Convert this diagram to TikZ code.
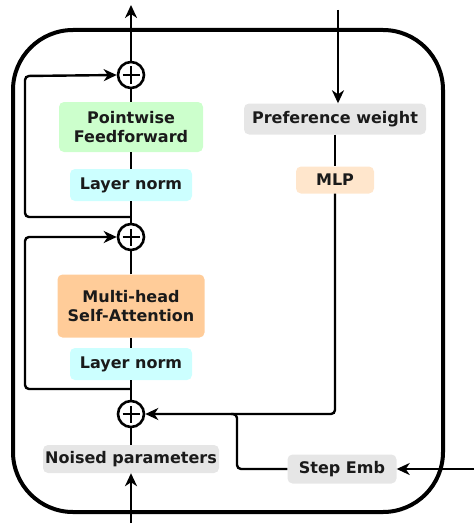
\documentclass[tikz,border=0pt]{standalone}
\usepackage{fontspec}
\setmainfont{DejaVu Sans}
\usetikzlibrary{arrows.meta}
\definecolor{ffgreen}{HTML}{CCFFCC}
\definecolor{normcyan}{HTML}{CCFFFF}
\definecolor{attnorange}{HTML}{FFCC99}
\definecolor{mlppeach}{HTML}{FFE6CC}
\definecolor{iogray}{HTML}{E6E6E6}
\definecolor{ink}{HTML}{1A1A1A}
\begin{document}
\begin{tikzpicture}[x=1pt,y=-1pt,
  block/.style={rounded corners=5pt, inner sep=0pt, text=ink, align=center,
    font=\bfseries\fontsize{16}{19}\selectfont},
  conn/.style={line width=2.4pt, draw=black},
  arr/.style={conn, -{Stealth[length=13pt,width=12pt,inset=4pt]}},
  sumnode/.style={circle, draw, line width=2.6pt, minimum size=26pt, inner sep=0pt, fill=white},
  plusarm/.style={line width=2.6pt}
]
\useasboundingbox (0,0) rectangle (474,527);

% outer block frame
\draw[line width=4pt, rounded corners=60pt] (13,30) rectangle (443,512);

% transformer column
\node[sumnode] (p1) at (131,75) {};
\node[block, fill=ffgreen, minimum width=144pt, minimum height=50pt] (pf) at (131,127) {Pointwise\\Feedforward};
\node[block, fill=normcyan, minimum width=122pt, minimum height=32pt] (ln1) at (131,185) {Layer norm};
\node[sumnode] (p2) at (131,237) {};
\node[block, fill=attnorange, minimum width=147pt, minimum height=63pt] (ms) at (131,306) {Multi-head\\Self-Attention};
\node[block, fill=normcyan, minimum width=122pt, minimum height=32pt] (ln2) at (131,364) {Layer norm};
\node[sumnode] (p3) at (131,414) {};
\node[block, fill=iogray, minimum width=176pt, minimum height=28pt] (np) at (131,459) {Noised parameters};

% conditioning branch
\node[block, fill=iogray, minimum width=182pt, minimum height=31pt] (pw) at (335,119) {Preference weight};
\node[block, fill=mlppeach, minimum width=78pt, minimum height=27pt] (mlp) at (335,180) {MLP};
\node[block, fill=iogray, minimum width=109pt, minimum height=29pt] (se) at (342,469) {Step Emb};

% plus signs
\foreach \p in {p1,p2,p3}{
  \draw[plusarm] ([xshift=-8.5pt]\p.center) -- ([xshift=8.5pt]\p.center);
  \draw[plusarm] ([yshift=-8.5pt]\p.center) -- ([yshift=8.5pt]\p.center);
}

% free ends and branch points
\coordinate (out) at (131,5);
\coordinate (inp) at (131,523);
\coordinate (br1) at (131,217);
\coordinate (br2) at (131,389);
\coordinate (pwin) at (338,10);
\coordinate (sein) at (474,469);
\coordinate (join) at (237,414);

% main column connectors
\draw[arr] (p1.north) -- (out);
\draw[conn] (pf.north) -- (p1.south);
\draw[conn] (ln1.north) -- (pf.south);
\draw[conn] (p2.north) -- (ln1.south);
\draw[conn] (ms.north) -- (p2.south);
\draw[conn] (ln2.north) -- (ms.south);
\draw[conn] (p3.north) -- (ln2.south);
\draw[conn] (np.north) -- (p3.south);
\draw[arr] (inp) -- (np.south);

% residual connections
\draw[arr, rounded corners=4pt] (br1) -| (25,76) -- (p1.west);
\draw[arr, rounded corners=4pt] (br2) -| (25,237) -- (p2.west);

% conditioning connectors
\draw[arr] (pwin) -- (pwin |- pw.north);
\draw[conn] (pw.south) -- (mlp.north);
\draw[arr, rounded corners=4pt] (mlp.south) |- (p3.east);
\draw[conn, rounded corners=4pt] (se.west) -| (join) -- ++(-6,0);
\draw[arr] (sein) -- (se.east);
\end{tikzpicture}
\end{document}
